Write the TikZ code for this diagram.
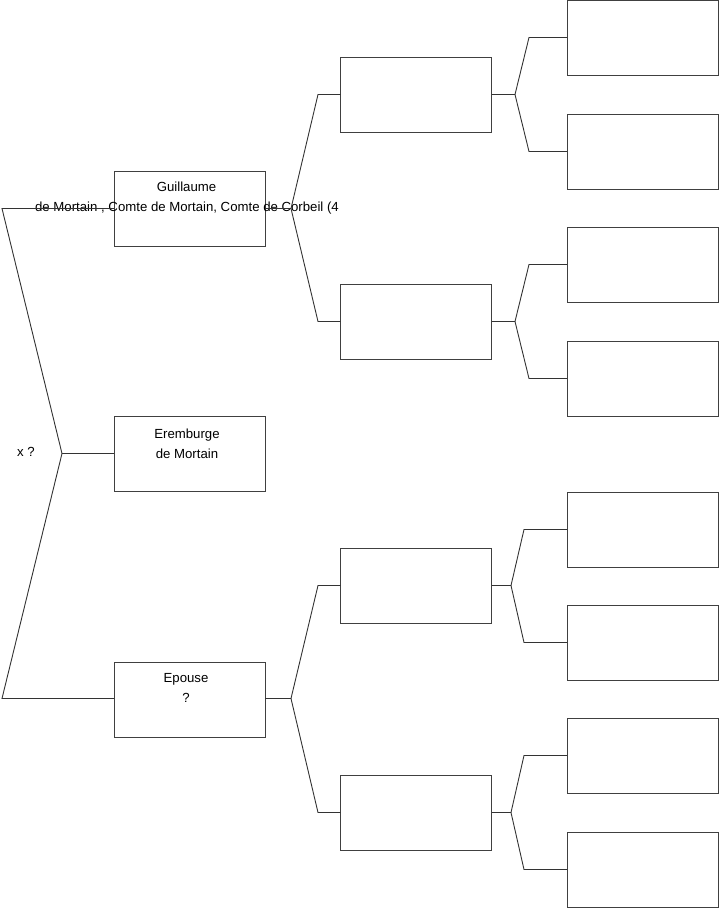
\documentclass[tikz,border=0pt]{standalone}
\usepackage{fontspec}
\setmainfont{Liberation Sans}
\begin{document}
\begin{tikzpicture}[x=1pt,y=-1pt,
  box/.style={draw=black!75,line width=1pt,minimum width=151pt,minimum height=75pt,inner sep=0pt,outer sep=0pt},
  conn/.style={draw=black!80,line width=0.9pt},
  lbl/.style={anchor=base,inner sep=0pt,font=\fontsize{13.2}{15}\selectfont}]
\useasboundingbox (0,0) rectangle (719,908);
% column 1
\node[box] (g) at (189.5,208.5) {};
\node[box] (e) at (189.5,453.5) {};
\node[box] (p) at (189.5,699.5) {};
% column 2
\node[box] (g1) at (416,94.5) {};
\node[box] (g2) at (416,321.5) {};
\node[box] (p1) at (416,585.5) {};
\node[box] (p2) at (416,812.5) {};
% column 3
\node[box] (g11) at (642.5,37.5) {};
\node[box] (g12) at (642.5,151.5) {};
\node[box] (g21) at (642.5,264.5) {};
\node[box] (g22) at (642.5,378.5) {};
\node[box] (p11) at (642.5,529.5) {};
\node[box] (p12) at (642.5,642.5) {};
\node[box] (p21) at (642.5,755.5) {};
\node[box] (p22) at (642.5,869.5) {};
% texts
\node[lbl] (tg1) at (186.5,191) {Guillaume};
\node[lbl] (tg2) at (187,211) {de Mortain , Comte de Mortain, Comte de Corbeil (4};
\node[lbl] (te1) at (187,438) {Eremburge};
\node[lbl] (te2) at (187,458) {de Mortain};
\node[lbl] (tp1) at (186,682) {Epouse};
\node[lbl] (tp2) at (186,702) {?};
\node[lbl] (tx) at (26,456.5) {x ?};
% root fork
\coordinate (r) at (62,453.5);
\coordinate (ra) at (2,208.5);
\coordinate (rb) at (2,698.5);
\draw[conn] (g.west |- ra) -- (ra) -- (r) -- (rb) -- (p.west |- rb);
\draw[conn] (r) -- (e.west);
% Guillaume fork
\coordinate (fg) at (291,208.5);
\coordinate (fga) at (318,94.5);
\coordinate (fgb) at (318,321.5);
\draw[conn] (g.east) -- (fg);
\draw[conn] (g1.west) -- (fga) -- (fg) -- (fgb) -- (g2.west);
% Epouse fork
\coordinate (fp) at (291,698.5);
\coordinate (fpa) at (318,585.5);
\coordinate (fpb) at (318,812.5);
\draw[conn] (p.east |- fp) -- (fp);
\draw[conn] (p1.west) -- (fpa) -- (fp) -- (fpb) -- (p2.west);
% g1 fork
\coordinate (f1) at (515,94.5);
\coordinate (f1a) at (529,37.5);
\coordinate (f1b) at (529,151.5);
\draw[conn] (g1.east) -- (f1);
\draw[conn] (g11.west) -- (f1a) -- (f1) -- (f1b) -- (g12.west);
% g2 fork
\coordinate (f2) at (515,321.5);
\coordinate (f2a) at (529,264.5);
\coordinate (f2b) at (529,378.5);
\draw[conn] (g2.east) -- (f2);
\draw[conn] (g21.west) -- (f2a) -- (f2) -- (f2b) -- (g22.west);
% p1 fork
\coordinate (f3) at (511,585.5);
\coordinate (f3a) at (524,529.5);
\coordinate (f3b) at (524,642.5);
\draw[conn] (p1.east) -- (f3);
\draw[conn] (p11.west) -- (f3a) -- (f3) -- (f3b) -- (p12.west);
% p2 fork
\coordinate (f4) at (511,812.5);
\coordinate (f4a) at (524,755.5);
\coordinate (f4b) at (524,869.5);
\draw[conn] (p2.east) -- (f4);
\draw[conn] (p21.west) -- (f4a) -- (f4) -- (f4b) -- (p22.west);
\end{tikzpicture}
\end{document}
